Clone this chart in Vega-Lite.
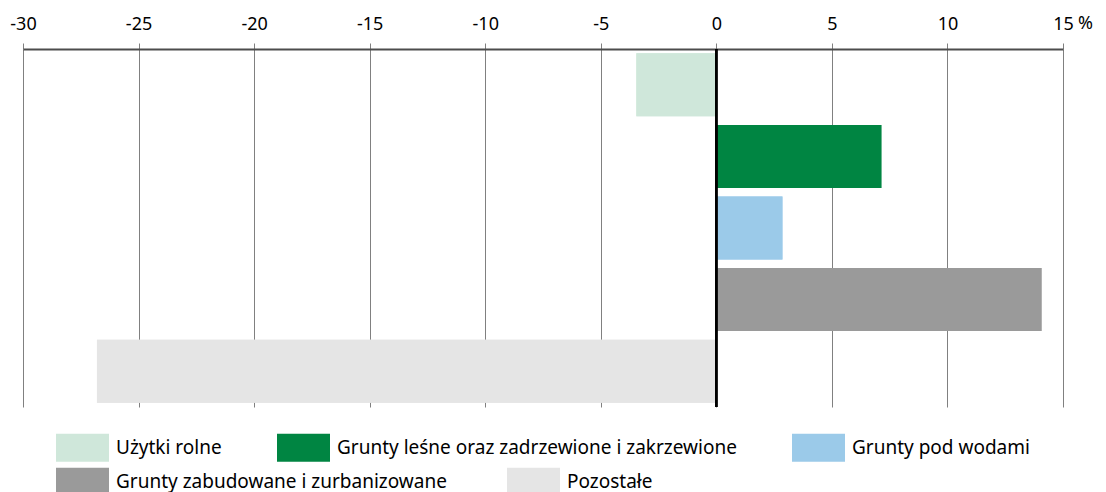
{
  "$schema": "https://vega.github.io/schema/vega-lite/v6.json",
  "autosize": {"type": "none"},
  "padding": {"left": 23, "top": 49, "right": 43, "bottom": 85},
  "width": 1040,
  "height": 358,
  "background": "white",
  "config": {
    "view": {"stroke": null},
    "font": "Noto Sans"
  },
  "data": {
    "values": [
      {"kategoria": "Użytki rolne", "zmiana": -3.46},
      {"kategoria": "Grunty leśne oraz zadrzewione i zakrzewione", "zmiana": 7.14},
      {"kategoria": "Grunty pod wodami", "zmiana": 2.86},
      {"kategoria": "Grunty zabudowane i zurbanizowane", "zmiana": 14.07},
      {"kategoria": "Pozostałe", "zmiana": -26.8}
    ]
  },
  "resolve": {"scale": {"color": "independent"}, "legend": {"color": "independent"}},
  "layer": [
    {
      "mark": {"type": "bar"},
      "encoding": {
        "y": {
          "field": "kategoria",
          "type": "nominal",
          "sort": null,
          "axis": null,
          "scale": {"paddingInner": 0.12, "paddingOuter": 0.06}
        },
        "x": {
          "field": "zmiana",
          "type": "quantitative",
          "scale": {"domain": [-30, 15], "nice": false},
          "axis": {
            "orient": "top",
            "values": [-30, -25, -20, -15, -10, -5, 0, 5, 10, 15],
            "labelExpr": "datum.value < 0 ? '-' + abs(datum.value) : '' + datum.value",
            "title": "%",
            "titleAngle": 0,
            "titleX": 1062,
            "titleY": -26,
            "titleAlign": "center",
            "titleBaseline": "middle",
            "titleFontSize": 18,
            "titleFontWeight": "normal",
            "titleColor": "#000000",
            "titleFont": "Noto Sans",
            "labelFontSize": 18,
            "labelColor": "#000000",
            "labelPadding": 10,
            "labelFlush": false,
            "domainColor": "#4d4d4d",
            "domainWidth": 2,
            "tickColor": "#808080",
            "tickSize": 6,
            "tickWidth": 1,
            "grid": true,
            "gridColor": "#808080",
            "gridWidth": 1
          }
        },
        "color": {
          "field": "kategoria",
          "type": "nominal",
          "sort": null,
          "scale": {
            "domain": ["Użytki rolne", "Grunty leśne oraz zadrzewione i zakrzewione", "Grunty pod wodami", "Grunty zabudowane i zurbanizowane", "Pozostałe"],
            "range": ["#cfe7da", "#008542", "#9bcae9", "#9a9a9a", "#e5e5e5"]
          },
          "legend": {
            "title": null,
            "orient": "none",
            "legendX": 33,
            "legendY": 372,
            "direction": "horizontal",
            "columns": 5,
            "values": ["Użytki rolne", "Grunty leśne oraz zadrzewione i zakrzewione", "Grunty pod wodami"],
            "columnPadding": 55,
            "symbolType": "M-1,-0.528H1V0.528H-1Z",
            "symbolSize": 2809,
            "symbolStrokeWidth": 0,
            "symbolOpacity": 1,
            "labelFontSize": 19,
            "labelColor": "#000000",
            "labelOffset": 7,
            "labelLimit": 600
          }
        }
      }
    },
    {
      "mark": {"type": "bar"},
      "encoding": {
        "y": {
          "field": "kategoria",
          "type": "nominal",
          "sort": null,
          "axis": null
        },
        "x": {
          "field": "zmiana",
          "type": "quantitative"
        },
        "color": {
          "field": "kategoria",
          "type": "nominal",
          "sort": null,
          "scale": {
            "domain": ["Użytki rolne", "Grunty leśne oraz zadrzewione i zakrzewione", "Grunty pod wodami", "Grunty zabudowane i zurbanizowane", "Pozostałe"],
            "range": ["#cfe7da", "#008542", "#9bcae9", "#9a9a9a", "#e5e5e5"]
          },
          "legend": {
            "title": null,
            "orient": "none",
            "legendX": 33,
            "legendY": 406,
            "direction": "horizontal",
            "columns": 5,
            "values": ["Grunty zabudowane i zurbanizowane", "Pozostałe"],
            "columnPadding": 60,
            "symbolType": "M-1,-0.528H1V0.528H-1Z",
            "symbolSize": 2809,
            "symbolStrokeWidth": 0,
            "symbolOpacity": 1,
            "labelFontSize": 19,
            "labelColor": "#000000",
            "labelOffset": 7,
            "labelLimit": 600
          }
        }
      }
    },
    {
      "mark": {"type": "rule", "color": "#000000", "strokeWidth": 2},
      "encoding": {
        "x": {"datum": 0, "type": "quantitative"}
      }
    }
  ]
}
